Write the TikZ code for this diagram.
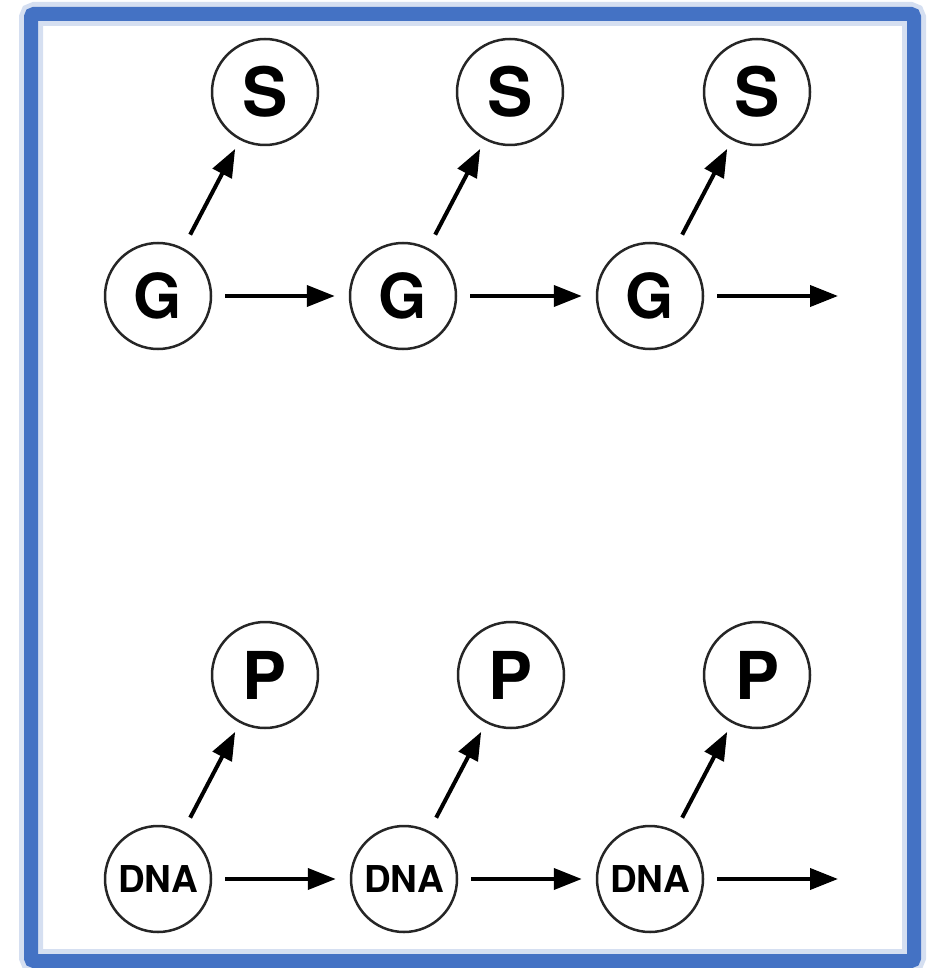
\documentclass[tikz,border=0pt]{standalone}
\usepackage{fontspec}
\setmainfont{TeX Gyre Heros}
\usepackage{xcolor}
\usepackage{tikz}
\usetikzlibrary{arrows.meta, positioning}
\definecolor{frameBlue}{RGB}{68, 114, 196}

\begin{document}
\begin{tikzpicture}[x=1pt, y=-1pt,
    state/.style={circle, draw=black!85, line width=2.5pt, minimum size=106pt, inner sep=0pt, fill=white},
    flow/.style={-{Triangle[length=28pt, width=21pt]}, line width=4pt, shorten <=13pt, shorten >=14pt},
    rise/.style={flow, shorten <=15pt, shorten >=10pt}]
    \useasboundingbox (0,0) rectangle (930,968);
    % Frame
    \draw[frameBlue!45, line width=24pt, rounded corners=4pt, opacity=0.5] (31,14) rectangle (914,961);
    \draw[frameBlue, line width=14pt, rounded corners=3pt] (31,14) rectangle (914,961);
    % Top chain
    \foreach \i/\x in {1/158, 2/403, 3/650} {
      \node[state, font=\bfseries\fontsize{62}{62}\selectfont] (g\i) at (\x,296) {G};
      \node[state, font=\bfseries\fontsize{68}{68}\selectfont] (s\i) at (\x+107,92) {S};
    }
    \foreach \i in {1,2,3}
      \draw[rise] (g\i) -- (s\i);
    \foreach \i/\j in {1/2, 2/3}
      \draw[flow] (g\i) -- (g\j);
    \coordinate (gend) at (838,296);
    \draw[flow, shorten >=0pt] (g3) -- (gend);
    % Bottom chain
    \foreach \i/\x in {1/158, 2/404, 3/650} {
      \node[state, font=\bfseries\fontsize{37}{37}\selectfont] (d\i) at (\x,879) {DNA};
      \node[state, font=\bfseries\fontsize{66}{66}\selectfont] (p\i) at (\x+107,675) {P};
    }
    \foreach \i in {1,2,3}
      \draw[rise] (d\i) -- (p\i);
    \foreach \i/\j in {1/2, 2/3}
      \draw[flow] (d\i) -- (d\j);
    \coordinate (dend) at (838,879);
    \draw[flow, shorten >=0pt] (d3) -- (dend);
\end{tikzpicture}
\end{document}
